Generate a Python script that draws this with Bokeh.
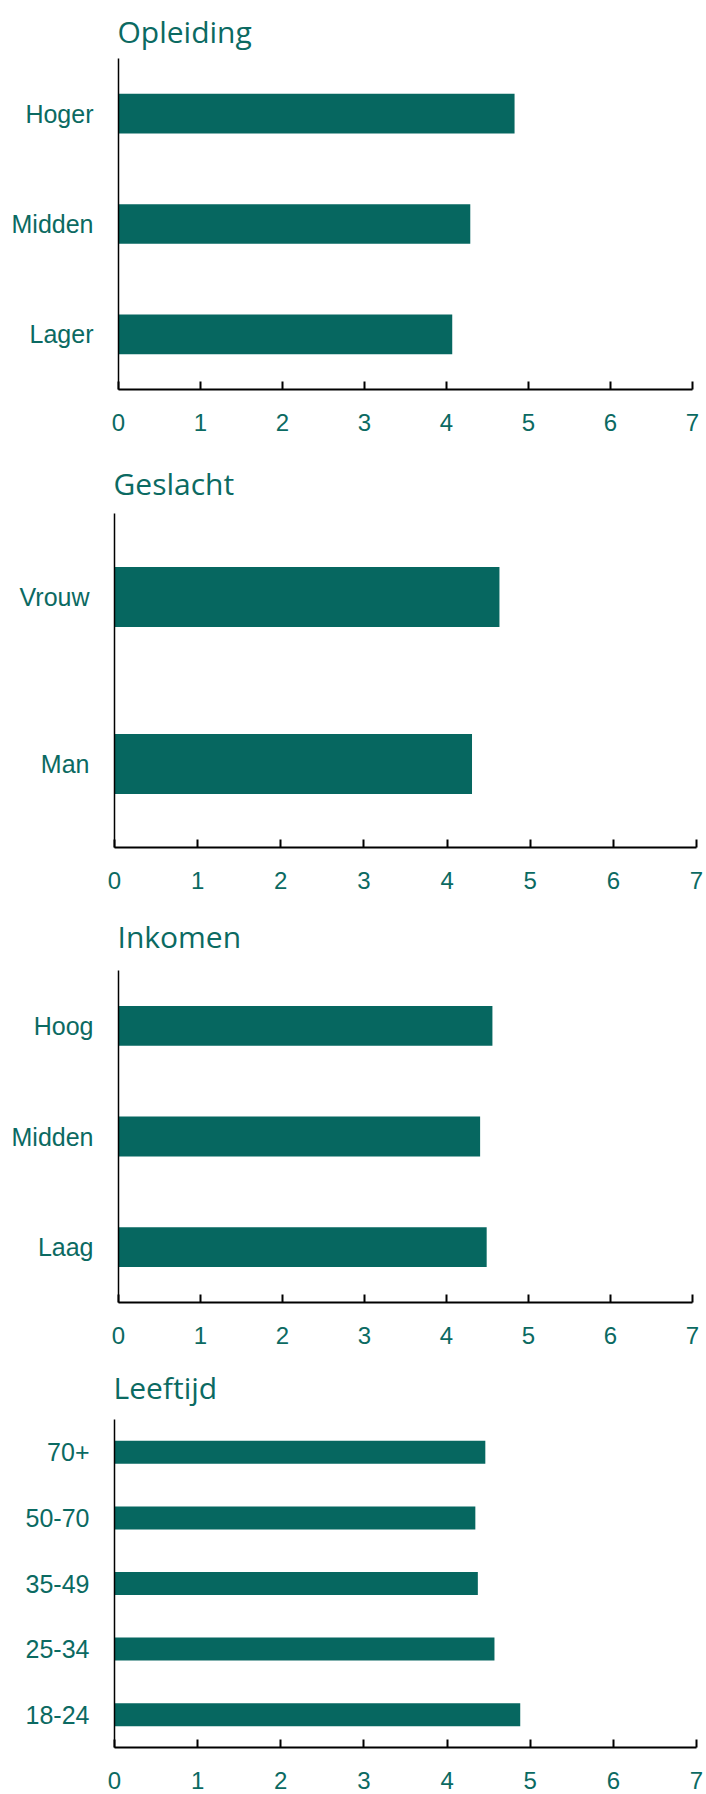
from bokeh.plotting import figure
from bokeh.models import Range1d, FactorRange, ColumnDataSource
from bokeh.layouts import column
from bokeh.embed import file_html
from bokeh.resources import INLINE

# ---- data ----
opleiding_cats = ["Lager", "Midden", "Hoger"]
opleiding_vals = [4.07, 4.29, 4.83]

geslacht_cats = ["Man", "Vrouw"]
geslacht_vals = [4.30, 4.63]

inkomen_cats = ["Laag", "Midden", "Hoog"]
inkomen_vals = [4.49, 4.41, 4.56]

leeftijd_cats = ["18-24", "25-34", "35-49", "50-70", "70+"]
leeftijd_vals = [4.88, 4.57, 4.37, 4.34, 4.46]

x_ticks = [0, 1, 2, 3, 4, 5, 6, 7]

BAR = "#066760"
TXT = "#0B6A62"
LABEL_FONT = "Liberation Sans"
TITLE_FONT = "Open Sans"


def panel(title, cats, vals, height, left, right, top, bottom, bar_h, tstand):
    p = figure(
        width=706, height=height,
        y_range=FactorRange(factors=cats),
        x_range=Range1d(0, 7),
        output_backend="svg", toolbar_location=None,
        min_border_left=left, min_border_right=right,
        min_border_top=top, min_border_bottom=bottom,
        title=title,
    )
    p.frame_align = False
    src = ColumnDataSource(dict(cat=cats, val=vals))
    p.hbar(y="cat", left=0, right="val", height=bar_h, source=src,
           fill_color=BAR, line_color=None)
    p.outline_line_color = None
    p.grid.visible = False
    p.background_fill_color = "white"
    p.border_fill_color = "white"

    p.title.text_font = TITLE_FONT
    p.title.text_font_size = "30px"
    p.title.text_font_style = "normal"
    p.title.text_line_height = 0.9
    p.title.text_color = TXT
    p.title.align = "left"
    p.title.offset = -1
    p.title.standoff = tstand

    xa = p.xaxis[0]
    xa.ticker = x_ticks
    xa.axis_line_color = "black"
    xa.axis_line_width = 2
    xa.major_tick_in = 8
    xa.major_tick_out = 0
    xa.major_tick_line_color = "black"
    xa.major_tick_line_width = 2
    xa.minor_tick_line_color = None
    xa.major_label_text_font = LABEL_FONT
    xa.major_label_text_font_size = "24px"
    xa.major_label_text_color = TXT
    xa.major_label_standoff = 24

    ya = p.yaxis[0]
    ya.axis_line_color = "black"
    ya.axis_line_width = 1.5
    ya.major_tick_line_color = None
    ya.minor_tick_line_color = None
    ya.major_label_text_font = LABEL_FONT
    ya.major_label_text_font_size = "25px"
    ya.major_label_text_color = TXT
    ya.major_label_standoff = 19
    return p


p1 = panel("Opleiding", opleiding_cats, opleiding_vals, 450, 118, 14, 58, 61, 0.36, 14)
p2 = panel("Geslacht", geslacht_cats, geslacht_vals, 449, 114, 10, 63, 52, 0.36, 19)
p3 = panel("Inkomen", inkomen_cats, inkomen_vals, 452, 118, 14, 71, 49, 0.36, 27)
p4 = panel("Leeftijd", leeftijd_cats, leeftijd_vals, 443, 114, 10, 68, 47, 0.35, 24)

layout = column(p1, p2, p3, p4, spacing=0)
open("out.html", "w").write(file_html(layout, INLINE))
